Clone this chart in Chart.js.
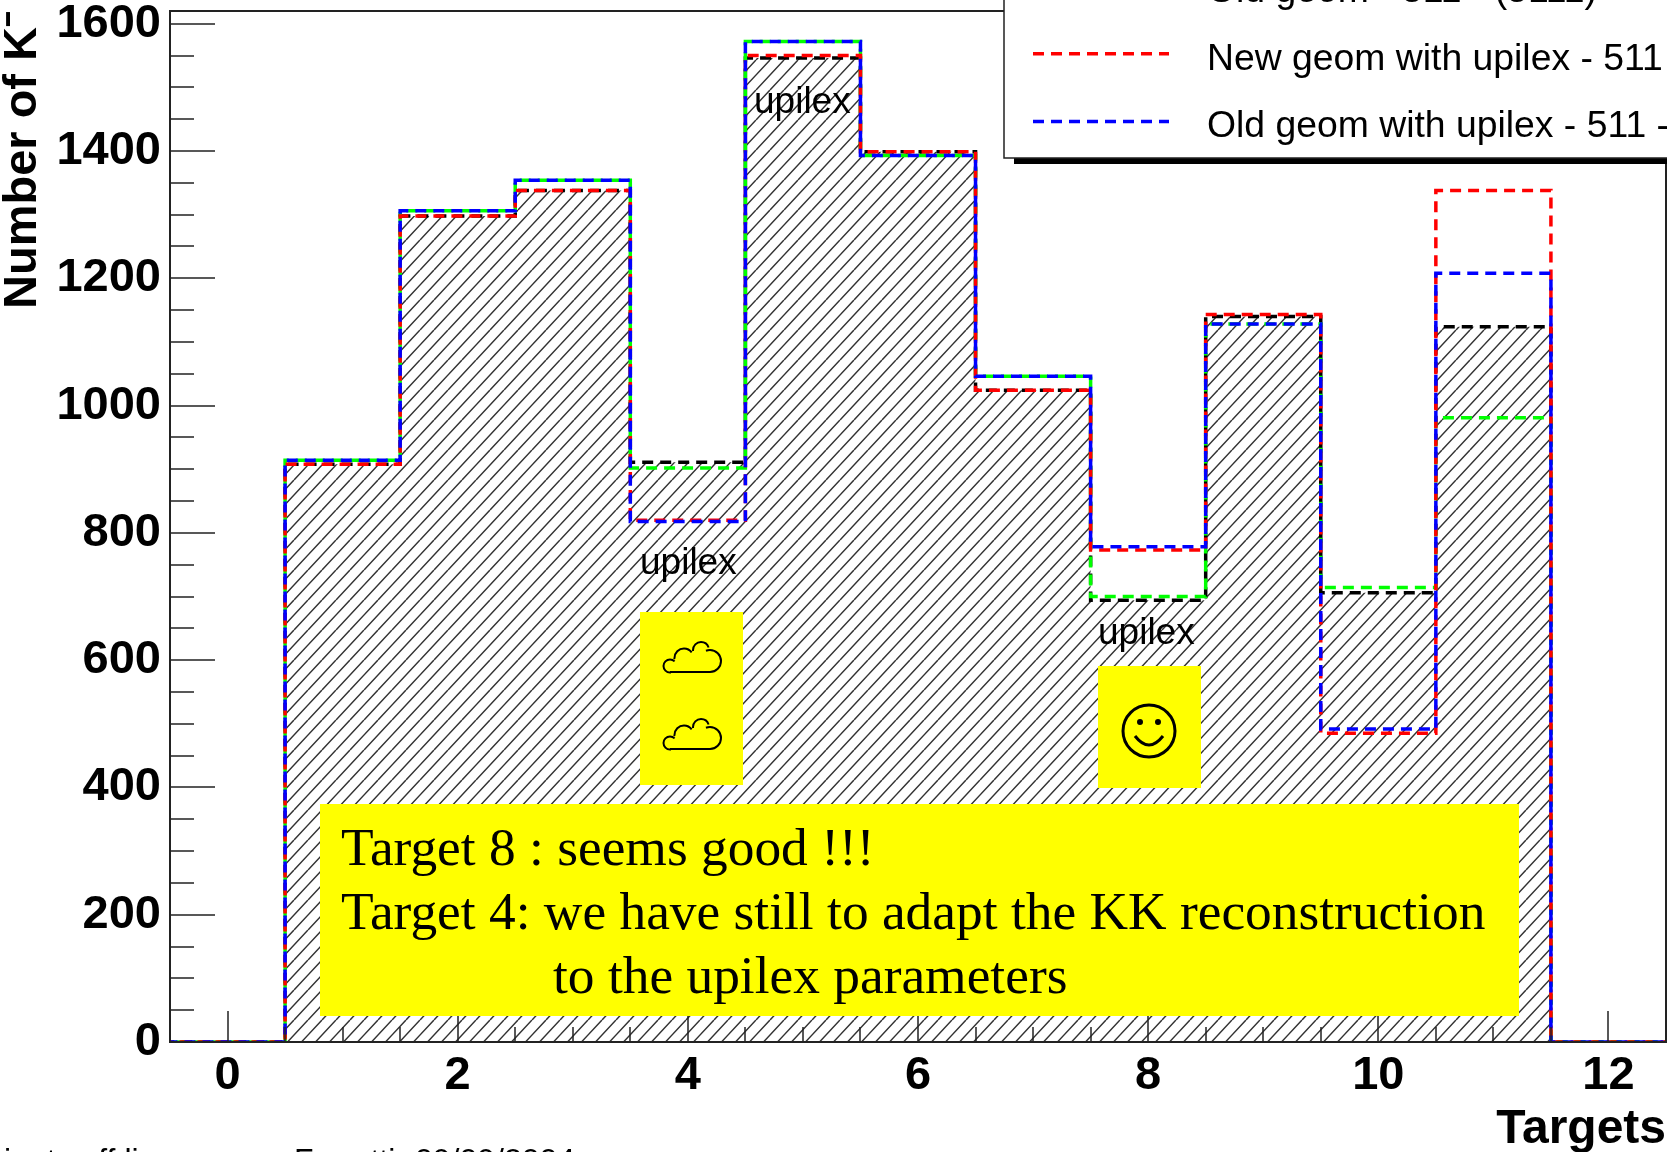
<!DOCTYPE html>
<html>
<head>
<meta charset="utf-8">
<title>Number of K- per target</title>
<script src="https://cdn.jsdelivr.net/npm/chart.js@4"></script>
<style>
  html, body { margin: 0; padding: 0; background: #fff; overflow: hidden; }
  canvas { display: block; }
</style>
</head>
<body>
<canvas id="grafico" width="1667" height="1152"></canvas>
<script>
// bin centres, the outer ones only close the histogram past the frame
const targets = [-1, 0, 1, 2, 3, 4, 5, 6, 7, 8, 9, 10, 11, 12, 13];
const newGeom511 = [0, 0, 908, 1298, 1338, 911, 1546, 1399, 1024, 694, 1140, 706, 1124, 0, 0];
const oldGeom511 = [0, 0, 914, 1306, 1354, 902, 1572, 1393, 1046, 700, 1128, 714, 981, 0, 0];
const newGeomUpilex = [0, 0, 908, 1298, 1338, 820, 1550, 1399, 1024, 773, 1143, 485, 1338, 0, 0];
const oldGeomUpilex = [0, 0, 914, 1306, 1354, 818, 1572, 1393, 1046, 778, 1128, 492, 1208, 0, 0];

const xTicks = [0, 2, 4, 6, 8, 10, 12];
const yTicks = [0, 200, 400, 600, 800, 1000, 1200, 1400, 1600];

const legendRows = [
  { color: "#00ff00", label: "Old geom - 511 - (5111)" },
  { color: "#ff0000", label: "New geom with upilex - 511" },
  { color: "#0000ff", label: "Old geom with upilex - 511 - (5111)" },
];
const notaLineas = ["Target 8 : seems good !!!", "Target 4: we have still to adapt the KK reconstruction", "to the upilex parameters"];

function puntos(valores) {
  return targets.map((t, i) => ({ x: t, y: valores[i] }));
}

function crearRayado() {
  const w = 14, h = 15;
  const tile = document.createElement("canvas");
  tile.width = w * 2;
  tile.height = h * 2;
  const c = tile.getContext("2d");
  c.strokeStyle = "#333";
  c.lineWidth = 1.5;
  c.beginPath();
  for (let k = -1; k < 4; k++) {
    c.moveTo(k * w - w, h * 2);
    c.lineTo(k * w + w, 0);
  }
  c.stroke();
  return c.createPattern(tile, "repeat");
}

function serie(valores, color, offset, extra) {
  return Object.assign({
    data: puntos(valores),
    borderColor: color,
    borderWidth: 3.5,
    borderDash: [11, 7],
    borderDashOffset: offset,
    stepped: "middle",
    pointRadius: 0,
    fill: false,
  }, extra);
}

function nube(ctx, dx, dy) {
  ctx.beginPath();
  ctx.moveTo(dx + 40, dy + 71);
  ctx.lineTo(dx + 80, dy + 71);
  ctx.arc(dx + 80, dy + 60, 11, Math.PI / 2, -Math.PI * 0.62, true);
  ctx.moveTo(dx + 40, dy + 71);
  ctx.arc(dx + 40, dy + 65, 6.5, Math.PI / 2, -Math.PI / 4, false);
  ctx.moveTo(dx + 44, dy + 58);
  ctx.arc(dx + 54, dy + 57, 9.5, Math.PI * 1.0, -Math.PI * 0.2, false);
  ctx.moveTo(dx + 63, dy + 50);
  ctx.arc(dx + 71, dy + 49, 8, Math.PI, -Math.PI * 0.1, false);
  ctx.stroke();
}

const decoraciones = {
  id: "decoraciones",
  afterDatasetsDraw(chart) {
    const { ctx, chartArea: a, scales } = chart;
    ctx.save();

    // frame and the inward ticks
    ctx.strokeStyle = "#222";
    ctx.lineWidth = 1.5;
    ctx.beginPath();
    for (let v = 0; v <= 1600; v += 50) {
      const y = Math.round(scales.y.getPixelForValue(v));
      ctx.moveTo(a.left, y);
      ctx.lineTo(a.left + (v % 200 === 0 ? 45 : 24), y);
    }
    for (let v = 0; v <= 12; v += 0.5) {
      const x = Math.round(scales.x.getPixelForValue(v));
      ctx.moveTo(x, a.bottom);
      ctx.lineTo(x, a.bottom - (v % 2 === 0 ? 31 : 15));
    }
    ctx.stroke();
    ctx.lineWidth = 2;
    ctx.strokeRect(a.left, a.top, a.right - a.left, a.bottom - a.top);

    // upilex labels
    ctx.fillStyle = "#000";
    ctx.font = "37px 'Liberation Sans'";
    ctx.textBaseline = "alphabetic";
    ctx.fillText("upilex", 640, 574);
    ctx.fillText("upilex", 754, 113);
    ctx.fillText("upilex", 1098, 644);

    // yellow boxes
    ctx.fillStyle = "#ffff00";
    ctx.fillRect(640, 612, 103, 173);
    ctx.fillRect(1098, 666, 103, 122);
    ctx.fillRect(320, 804, 1199, 212);

    ctx.strokeStyle = "#000";
    ctx.lineWidth = 2;
    nube(ctx, 630, 601);
    nube(ctx, 630, 678);
    ctx.lineWidth = 3;
    ctx.beginPath();
    ctx.arc(1149, 731, 26, 0, Math.PI * 2);
    ctx.moveTo(1135, 736);
    ctx.quadraticCurveTo(1149, 754, 1163, 736);
    ctx.stroke();
    ctx.fillStyle = "#000";
    ctx.beginPath();
    ctx.arc(1140, 722, 3, 0, Math.PI * 2);
    ctx.arc(1158, 722, 3, 0, Math.PI * 2);
    ctx.fill();

    ctx.font = "53.4px 'Liberation Serif'";
    ctx.fillText(notaLineas[0], 341, 865);
    ctx.fillText(notaLineas[1], 341, 929);
    ctx.fillText(notaLineas[2], 553, 993);

    // legend box, it runs off the page like the original
    ctx.fillStyle = "#000";
    ctx.fillRect(1014, 158, 653, 6);
    ctx.fillStyle = "#fff";
    ctx.fillRect(1004, 0, 663, 158);
    ctx.strokeStyle = "#222";
    ctx.lineWidth = 1.5;
    ctx.beginPath();
    ctx.moveTo(1004, 0);
    ctx.lineTo(1004, 158);
    ctx.lineTo(1667, 158);
    ctx.stroke();
    ctx.font = "37.35px 'Liberation Sans'";
    legendRows.forEach((fila, i) => {
      const y = -14 + i * 67.7;
      ctx.strokeStyle = fila.color;
      ctx.lineWidth = 3.5;
      ctx.setLineDash([11, 7]);
      ctx.beginPath();
      ctx.moveTo(1033, y);
      ctx.lineTo(1169, y);
      ctx.stroke();
      ctx.setLineDash([]);
      ctx.fillStyle = "#000";
      ctx.fillText(fila.label, 1207, y + 16);
    });

    // footer cut by the page bottom
    ctx.font = "32px 'Liberation Sans'";
    ctx.fillText("ients off line", 4, 1171);
    ctx.fillText("Ferretti", 294, 1171);
    ctx.fillText("09/09/2004", 415, 1171);
    ctx.restore();
  },
};

const fuenteEjes = { family: "'Liberation Sans'", size: 47, weight: "bold", lineHeight: 1 };

new Chart(document.getElementById("grafico").getContext("2d"), {
  type: "line",
  data: {
    datasets: [
      serie(oldGeomUpilex, "#0000ff", 0),
      serie(newGeomUpilex, "#ff0000", 5),
      serie(oldGeom511, "#00ff00", 9),
      serie(newGeom511, "#000000", 3, { fill: "origin", backgroundColor: crearRayado() }),
    ],
  },
  options: {
    responsive: false,
    animation: false,
    layout: { padding: { top: 11, right: 1 } },
    plugins: { legend: { display: false }, tooltip: { enabled: false } },
    scales: {
      x: {
        type: "linear",
        min: -0.5,
        max: 12.5,
        afterBuildTicks: (s) => { s.ticks = xTicks.map((v) => ({ value: v })); },
        afterFit: (s) => { s.height = 110; s.paddingLeft = 0; s.paddingRight = 0; },
        grid: { display: false, drawTicks: false },
        border: { display: false },
        ticks: { color: "#000", font: fuenteEjes, padding: 11, maxRotation: 0, autoSkip: false },
        title: { display: true, text: "Targets", align: "end", color: "#000", font: Object.assign({}, fuenteEjes, { size: 48, lineHeight: 0.92 }), padding: 0 },
      },
      y: {
        min: 0,
        max: 1620,
        afterBuildTicks: (s) => { s.ticks = yTicks.map((v) => ({ value: v })); },
        afterFit: (s) => { s.width = 170; s.paddingTop = 0; s.paddingBottom = 0; },
        grid: { display: false, drawTicks: false },
        border: { display: false },
        ticks: { color: "#000", font: fuenteEjes, padding: 9, autoSkip: false, callback: (v) => String(v) },
        title: { display: true, text: "Number of K⁻", align: "end", color: "#000", font: fuenteEjes, padding: 0 },
      },
    },
  },
  plugins: [decoraciones],
});
</script>
</body>
</html>
